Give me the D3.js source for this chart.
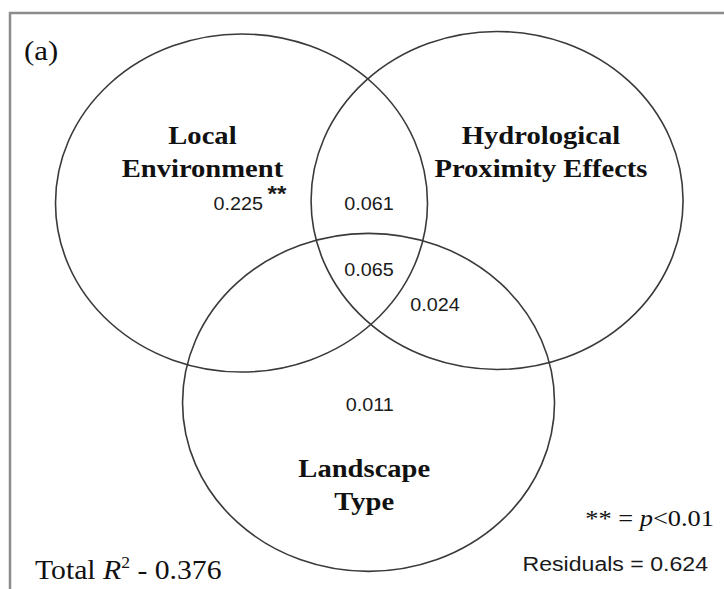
<!DOCTYPE html>
<html>
<head>
<meta charset="utf-8">
<script src="https://cdn.jsdelivr.net/npm/d3@7"></script>
<style>
  body { margin: 0; background: #fff; }
  svg { display: block; }
</style>
</head>
<body>
<svg width="724" height="589"></svg>
<script>
// variance partitioning sets
const setNames = ["Local Environment", "Hydrological Proximity Effects", "Landscape Type"];
const setLabelLines = [["Local", "Environment"], ["Hydrological", "Proximity Effects"], ["Landscape", "Type"]];

// fractions of explained variance for each region of the diagram
const regionNames = ["Local only", "Local ∩ Hydro", "all three", "Hydro ∩ Landscape", "Landscape only"];
const regionValues = [0.225, 0.061, 0.065, 0.024, 0.011];
const regionMarks = ["**", "", "", "", ""];

const totalR2 = 0.376;
const residuals = 0.624;
const sigNote = "p<0.01";

const width = 724;
const height = 589;
const stretch = 1.1; // the original figure is a bit wider than tall

// layout in unit-radius space (circle centres)
const centres = [[0, 0], [1.374, -0.015], [0.683, 1.18]];
const labelPos = [[-0.21, -0.35], [1.61, -0.35], [0.66, 1.62]];
const regionPos = [[-0.02, 0.0], [0.685, 0.0], [0.685, 0.395], [1.04, 0.6], [0.69, 1.19]];

const x = d3.scaleLinear().domain([0, 1]).range([241.5, 427.5]);
const y = d3.scaleLinear().domain([0, 1]).range([203, 372]);

const svg = d3.select("svg");

// place text with a slight horizontal stretch
function label(parent, px, py) {
  return parent.append("g")
    .attr("transform", `translate(${px},${py}) scale(${stretch},1)`)
    .append("text");
}

// frame
svg.append("path")
  .attr("d", `M10,${height + 5}V13H${width + 5}`)
  .attr("fill", "none")
  .attr("stroke", "#8c8c8c")
  .attr("stroke-width", 2.5);

svg.append("g")
  .selectAll("ellipse")
  .data(centres)
  .join("ellipse")
  .attr("cx", d => x(d[0]))
  .attr("cy", d => y(d[1]))
  .attr("rx", x(1) - x(0))
  .attr("ry", y(1) - y(0))
  .attr("fill", "none")
  .attr("stroke", "#3a3a3a")
  .attr("stroke-width", 1.6);

// set names
const lab = svg.append("g")
  .attr("font-family", "Liberation Serif, Times New Roman, serif")
  .attr("font-weight", "bold")
  .attr("font-size", 26)
  .attr("fill", "#111")
  .attr("text-anchor", "middle");

setLabelLines.forEach((lines, i) => {
  lines.forEach((t, j) => {
    label(lab, x(labelPos[i][0]), y(labelPos[i][1]) + j * 33).text(t);
  });
});

// region values
const vals = svg.append("g")
  .attr("font-family", "Liberation Sans, Arial, sans-serif")
  .attr("font-size", 18)
  .attr("fill", "#1a1a1a")
  .attr("text-anchor", "middle");

regionValues.forEach((v, i) => {
  const t = label(vals, x(regionPos[i][0]), y(regionPos[i][1]) + 6.5)
    .text(d3.format(".3f")(v));
  if (regionMarks[i]) {
    t.attr("text-anchor", "start").attr("dx", -22);
    t.append("tspan")
      .attr("dx", 4)
      .attr("dy", -9)
      .attr("font-size", 22)
      .attr("font-weight", "bold")
      .text(regionMarks[i]);
  }
});

// panel letter
label(svg, 24, 60)
  .attr("font-family", "Liberation Serif, Times New Roman, serif")
  .attr("font-size", 28)
  .attr("fill", "#111")
  .text("(a)");

// significance note
const sig = label(svg, 714, 526)
  .attr("text-anchor", "end")
  .attr("font-family", "Liberation Serif, Times New Roman, serif")
  .attr("font-size", 24)
  .attr("fill", "#111");
sig.append("tspan").text("** = ");
sig.append("tspan").attr("font-style", "italic").text(sigNote.slice(0, 1));
sig.append("tspan").text(sigNote.slice(1));

// residuals
label(svg, 708, 571)
  .attr("text-anchor", "end")
  .attr("font-family", "Liberation Sans, Arial, sans-serif")
  .attr("font-size", 21)
  .attr("fill", "#1a1a1a")
  .text("Residuals = " + d3.format(".3f")(residuals));

// total R2
const tot = label(svg, 35, 579)
  .attr("font-family", "Liberation Serif, Times New Roman, serif")
  .attr("font-size", 27)
  .attr("fill", "#111");
tot.append("tspan").text("Total ");
tot.append("tspan").attr("font-style", "italic").text("R");
tot.append("tspan").attr("font-size", 16).attr("dy", -11).text("2");
tot.append("tspan").attr("dy", 11).text(" - " + d3.format(".3f")(totalR2));
</script>
</body>
</html>
